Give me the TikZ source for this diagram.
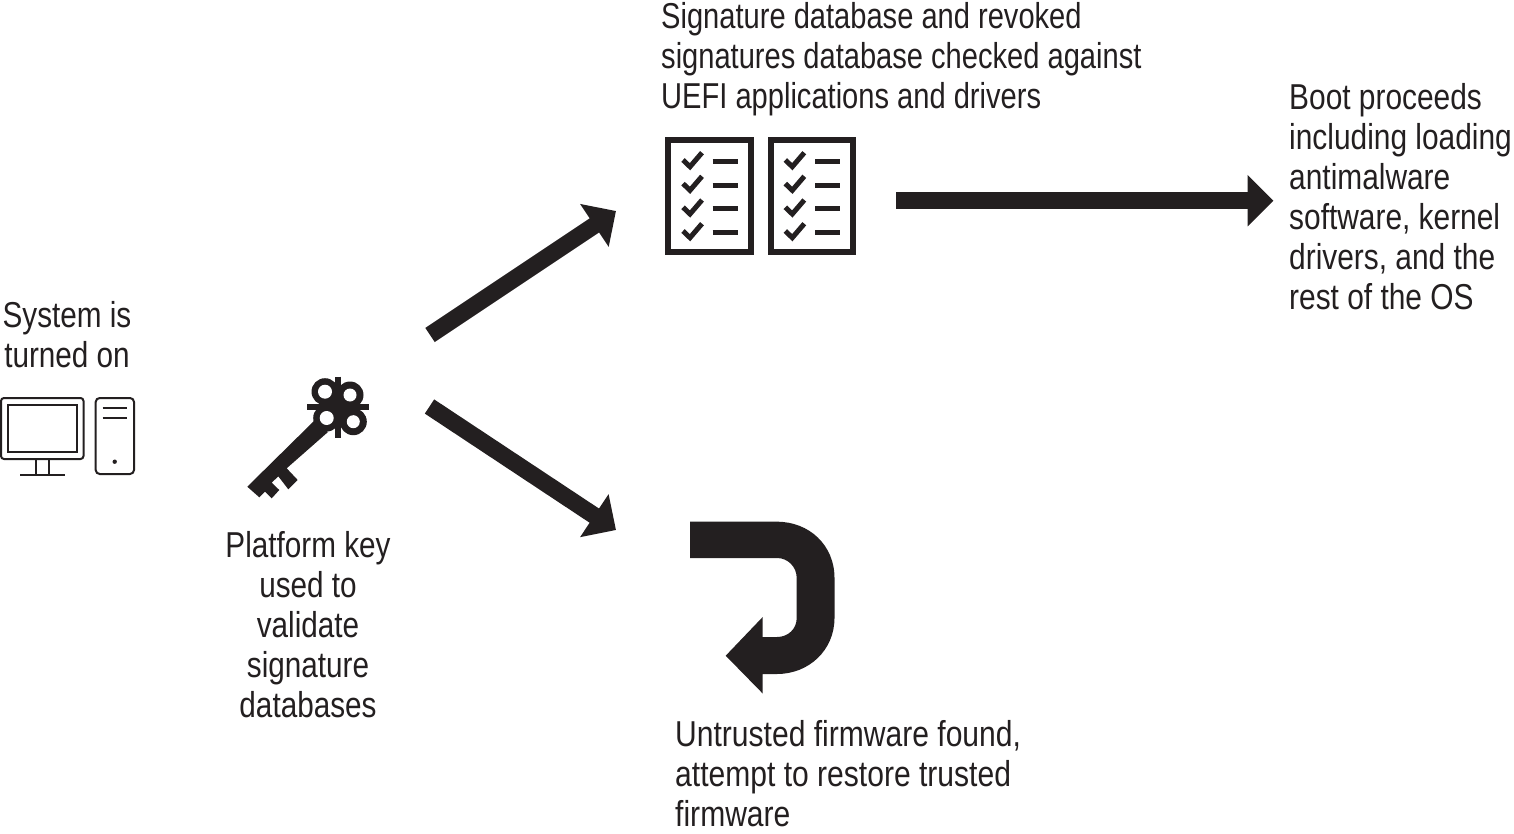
\documentclass[tikz,border=0pt]{standalone}
\usepackage{fontspec}
\setmainfont[FakeStretch=0.825]{Liberation Sans}
\newfontfamily\sigfont[FakeStretch=0.808]{Liberation Sans}
\newfontfamily\untrfont[FakeStretch=0.835]{Liberation Sans}
\newfontfamily\bootfont[FakeStretch=0.83]{Liberation Sans}
\usetikzlibrary{arrows.meta}
\definecolor{ink}{HTML}{231F20}
\tikzset{
 lbl/.style={inner sep=0pt,text=ink,font=\fontsize{36}{40}\selectfont,anchor=north west},
 bigarrow/.style={draw=ink,line width=17pt,-{Triangle[length=26pt,width=50pt]}}
}
\newcommand{\checkrow}[2]{%
 \draw[ink,line width=5pt] (#1+18,#2-1.7) -- (#1+25,#2+5) -- (#1+37,#2-9);
 \draw[ink,line width=5pt] (#1+47.7,#2) -- (#1+72.7,#2);
}
\newcommand{\checklist}[1]{%
 \draw[ink,line width=6pt] (#1+3.3,140.5) rectangle (#1+86,252);
 \checkrow{#1}{161.7}\checkrow{#1}{185.3}\checkrow{#1}{209}\checkrow{#1}{232.7}
}
\begin{document}
\begin{tikzpicture}[x=1pt,y=-1pt]
\useasboundingbox (0,0) rectangle (1514,834);
% text
\node[lbl,align=center,anchor=north] (sys) at (67,301) {System is\\turned on};
\node[lbl,align=center,anchor=north] (pk) at (308,531) {Platform key\\used to\\validate\\signature\\databases};
\node[lbl,align=left,font=\fontsize{36}{40}\selectfont\sigfont] (sig) at (661,2) {Signature database and revoked\\signatures database checked against\\UEFI applications and drivers};
\node[lbl,align=left,font=\fontsize{36}{40}\selectfont\bootfont] (boot) at (1289,83) {Boot proceeds\\including loading\\antimalware\\software, kernel\\drivers, and the\\rest of the OS};
\node[lbl,align=left,font=\fontsize{36}{40}\selectfont\untrfont] (untr) at (675,720) {Untrusted firmware found,\\attempt to restore trusted\\firmware};
% computer
\draw[ink,line width=2pt,rounded corners=3pt] (1,398) rectangle (83.5,459);
\draw[ink,line width=2pt] (8,404.5) rectangle (76.7,452);
\draw[ink,line width=2pt] (36,459) -- (36,474) (49,459) -- (49,474) (20,474.5) -- (65,474.5);
\draw[ink,line width=2pt,rounded corners=4pt] (95.7,398) rectangle (134,474);
\draw[ink,line width=2pt] (102.7,408.3) -- (126.7,408.3) (102.7,417.7) -- (126.7,417.7);
\fill[ink] (114.7,461.7) circle (2.2);
% key
\fill[ink] (315,420) -- (247.3,486.7) -- (259.3,497.3) -- (265,491.7) -- (271.7,498.3) -- (279.3,490) -- (271.7,482.7) -- (278.3,476.3) -- (288.3,489.3) -- (297.7,480) -- (286.7,468.3) -- (328,432) -- cycle;
\draw[ink,line width=6pt] (338,376.7) -- (338,437.7) (307.3,406.7) -- (369,406.7);
\fill[ink] (338,406.7) circle (13);
\foreach \cx/\cy/\ro in {325/391.7/13.5,350/395/13.5,326.7/418/13.5,353.3/421.7/13.5}{\fill[ink] (\cx,\cy) circle (\ro);}
\foreach \cx/\cy/\ri in {325/391.7/7,350/395/6.5,326.7/418/7,353.3/421.7/6.5}{\fill[white] (\cx,\cy) circle (\ri);}
% lists
\checklist{665}
\checklist{767.3}
% arrows
\coordinate (a1s) at (430,335);
\coordinate (a1e) at (616,211);
\coordinate (a2s) at (429.5,406.5);
\coordinate (a2e) at (616,530);
\coordinate (a3s) at (896,200.7);
\coordinate (a3e) at (1273.5,200.7);
\draw[bigarrow] (a1s) -- (a1e);
\draw[bigarrow] (a2s) -- (a2e);
\draw[bigarrow] (a3s) -- (a3e);
% u-turn
\fill[ink] (690,521.7) -- (777,521.7) .. controls (809,521.7) and (834.5,545) .. (834.5,578) -- (834.5,618) .. controls (834.5,650) and (809,674) .. (777,674) -- (762.7,674) -- (762.7,693.5) -- (725.7,655.7) -- (762.7,617) -- (762.7,637) -- (777,637) .. controls (788,637) and (796.7,629) .. (796.7,618) -- (796.7,578) .. controls (796.7,567) and (788,558) .. (777,558) -- (690,558) -- cycle;
\end{tikzpicture}
\end{document}
